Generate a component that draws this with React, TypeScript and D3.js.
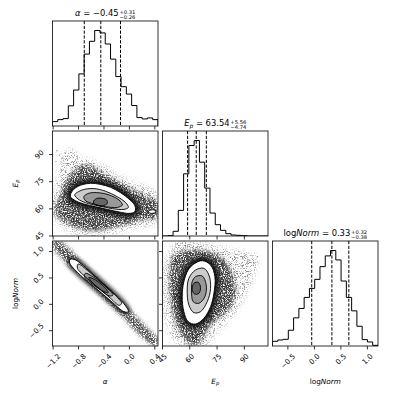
import React, { useRef, useEffect } from 'react';
import * as d3 from 'd3';

// parameter ranges (same as the histogram ranges)
const alphaRange = [-1.21, 0.45];
const epRange = [45, 103];
const normRange = [-0.79, 1.2];

const alphaTicks = [-1.2, -0.8, -0.4, 0.0, 0.4];
const alphaTickLabels = ['−1.2', '−0.8', '−0.4', '0.0', '0.4'];
const epTicks = [45, 60, 75, 90];
const epTickLabels = ['45', '60', '75', '90'];
const normTicks = [-0.5, 0.0, 0.5, 1.0];
const normTickLabels = ['−0.5', '0.0', '0.5', '1.0'];

// 20-bin marginal histograms
const alphaHist = [13, 19, 22, 60, 107, 155, 214, 252, 284, 277, 244, 199, 147, 117, 95, 61, 25, 21, 24, 19];
const epHist = [0, 1, 14, 77, 187, 272, 287, 222, 144, 69, 34, 17, 7, 3, 2, 1, 0, 0, 0, 0];
const normHist = [14, 18, 20, 47, 84, 112, 145, 172, 199, 237, 269, 285, 257, 194, 145, 105, 59, 19, 12, 2];

// 16 / 50 / 84 percentiles
const alphaQuant = [-0.71, -0.45, -0.14];
const epQuant = [58.8, 63.54, 69.1];
const normQuant = [-0.05, 0.33, 0.65];

// alpha vs Ep
const alphaEpHaze = [[-1.202, 57.5], [-1.165, 70.4], [-1.086, 83.3], [-1.033, 90.7], [-0.928, 93.4], [-0.796, 88.8], [-0.638, 87.4], [-0.427, 84.2], [-0.164, 77.8], [0.1, 74.1], [0.363, 70.4], [0.447, 67.7], [0.447, 52.9], [0.153, 50.2], [-0.164, 47.4], [-0.533, 45.6], [-0.849, 46.5], [-1.06, 50.2]];
const alphaEpCloud = [[-1.176, 60.3], [-1.112, 65.8], [-1.033, 72.3], [-0.954, 77.8], [-0.849, 81.8], [-0.717, 84.2], [-0.586, 83.3], [-0.427, 80.0], [-0.269, 76.9], [-0.085, 73.2], [0.1, 69.9], [0.284, 66.7], [0.437, 64.0], [0.437, 55.3], [0.284, 54.2], [0.1, 52.9], [-0.085, 51.1], [-0.269, 49.8], [-0.454, 48.3], [-0.638, 48.0], [-0.796, 49.2], [-0.928, 51.1], [-1.06, 53.8], [-1.155, 56.6]];
const alphaEpLevels = [
  [[-0.928, 67.7], [-0.875, 70.8], [-0.77, 73.0], [-0.612, 74.1], [-0.454, 73.5], [-0.296, 71.9], [-0.138, 68.9], [-0.006, 65.4], [0.089, 61.6], [0.084, 58.4], [-0.006, 57.5], [-0.164, 58.3], [-0.348, 59.7], [-0.533, 61.2], [-0.717, 62.7], [-0.849, 64.5], [-0.918, 66.2]],
  [[-0.86, 67.7], [-0.744, 70.4], [-0.559, 71.2], [-0.375, 69.7], [-0.19, 66.7], [-0.058, 63.4], [-0.016, 60.8], [-0.085, 59.7], [-0.269, 60.1], [-0.48, 61.6], [-0.691, 63.4], [-0.807, 65.4]],
  [[-0.717, 66.7], [-0.638, 68.6], [-0.48, 68.9], [-0.322, 67.7], [-0.164, 64.9], [-0.111, 62.1], [-0.19, 60.8], [-0.375, 61.2], [-0.559, 62.7], [-0.691, 64.5]],
  [[-0.559, 64.5], [-0.507, 65.8], [-0.427, 65.8], [-0.359, 64.9], [-0.348, 63.0], [-0.427, 61.6], [-0.517, 62.0], [-0.564, 63.0]],
];
const alphaEpIsland = [[0.3, 58.8], [0.39, 59.4], [0.416, 58.1], [0.321, 57.6]];
const alphaEpStray = [[-1.139, 92.1], [-1.102, 89.7], [-1.06, 87.9], [-1.007, 90.7], [-1.155, 86.1], [-0.981, 85.1], [-1.07, 81.5], [-0.902, 86.1], [0.205, 69.5], [0.31, 68.2], [0.363, 65.8], [0.047, 71.9], [-0.823, 88.8], [-1.192, 64.0]];

// alpha vs logNorm
const alphaNormCloud = [[-1.202, 1.219], [-1.112, 1.206], [-0.954, 1.061], [-0.691, 0.714], [-0.427, 0.398], [-0.164, 0.095], [0.1, -0.221], [0.31, -0.487], [0.447, -0.645], [0.447, -0.79], [0.337, -0.752], [0.152, -0.569], [-0.111, -0.234], [-0.375, 0.082], [-0.638, 0.398], [-0.902, 0.682], [-1.086, 0.903], [-1.202, 1.08]];
const alphaNormLevels = [
  [[-0.928, 0.853], [-0.849, 0.84], [-0.638, 0.638], [-0.427, 0.41], [-0.217, 0.177], [-0.058, -0.032], [-0.016, -0.139], [-0.085, -0.139], [-0.296, 0.069], [-0.507, 0.284], [-0.717, 0.493], [-0.902, 0.714], [-0.944, 0.802]],
  [[-0.807, 0.764], [-0.638, 0.619], [-0.427, 0.398], [-0.243, 0.196], [-0.122, 0.019], [-0.164, -0.019], [-0.296, 0.113], [-0.48, 0.303], [-0.665, 0.493], [-0.817, 0.682]],
  [[-0.691, 0.587], [-0.559, 0.511], [-0.375, 0.335], [-0.259, 0.177], [-0.312, 0.158], [-0.454, 0.271], [-0.612, 0.41], [-0.707, 0.524]],
  [[-0.638, 0.511], [-0.533, 0.461], [-0.375, 0.303], [-0.333, 0.221], [-0.401, 0.24], [-0.559, 0.379]],
];

// Ep vs logNorm
const epNormHaze = [[48.49, 0.966], [52.16, 1.156], [63.17, 1.187], [77.85, 1.061], [90.69, 0.966], [97.11, 0.871], [94.36, 0.461], [88.86, 0.082], [81.52, -0.297], [72.34, -0.613], [68.67, -0.79], [55.83, -0.79], [50.32, -0.613], [46.65, -0.234], [45.73, 0.271], [46.28, 0.714]];
const epNormCloud = [[51.24, 0.935], [55.83, 0.998], [63.17, 1.029], [70.51, 0.998], [76.93, 0.903], [81.52, 0.714], [84.27, 0.461], [85.19, 0.208], [82.43, -0.044], [76.93, -0.234], [71.42, -0.392], [67.75, -0.613], [65.0, -0.739], [61.33, -0.771], [57.66, -0.676], [53.99, -0.487], [51.24, -0.234], [49.4, 0.082], [48.85, 0.398], [49.4, 0.714]];
const epNormLevels = [
  [[62.25, 0.764], [66.84, 0.827], [71.42, 0.745], [73.81, 0.524], [73.26, 0.208], [71.42, -0.044], [67.75, -0.265], [63.17, -0.373], [59.13, -0.329], [56.74, -0.139], [55.83, 0.145], [56.74, 0.429], [59.13, 0.65]],
  [[63.17, 0.65], [67.75, 0.682], [70.51, 0.556], [71.42, 0.303], [69.59, 0.05], [65.92, -0.139], [62.25, -0.158], [59.5, -0.013], [58.58, 0.271], [59.5, 0.493]],
  [[63.17, 0.524], [66.84, 0.537], [69.04, 0.366], [68.3, 0.145], [65.0, 0.019], [61.88, 0.05], [60.96, 0.271], [61.33, 0.429]],
  [[62.25, 0.398], [64.63, 0.417], [65.92, 0.322], [65.0, 0.208], [62.62, 0.196], [61.33, 0.284]],
];
const epNormStray = [[87.02, 0.998], [90.69, 0.935], [92.53, 0.84], [95.28, 0.777], [88.86, 0.714], [97.11, 0.903], [86.1, 0.587], [91.61, 0.524], [83.35, 0.271], [92.53, 0.619], [53.07, 1.143], [57.66, 1.105], [61.33, 1.08]];

const FONT = 'DejaVu Sans, sans-serif';
const cols = [52.5, 162.5, 272.5];
const rows = [21, 131, 241];
const PW = 105.5;
const PH = 105;
const LEVEL_FILLS = ['#ffffff', '#cccccc', '#999999', '#666666'];

function App() {
  const ref = useRef<SVGSVGElement>(null);

  useEffect(() => {
    if (ref.current) drawChart(ref.current);
  }, []);

  return (
    <svg ref={ref} width={399} height={399} style={{ position: 'absolute', left: 0, top: 0 }} />
  );
}

function drawChart(node: SVGSVGElement) {
  const svg = d3.select(node);
  svg.selectAll('*').remove();
  svg.append('rect').attr('width', 399).attr('height', 399).attr('fill', '#fff');

  const defs = svg.append('defs');
  const grain = (id: string, slope: number, offset: number, seed: number, blur: number) => {
    const f = defs.append('filter').attr('id', id)
      .attr('x', '-10%').attr('y', '-10%').attr('width', '120%').attr('height', '120%')
      .attr('color-interpolation-filters', 'sRGB');
    f.append('feTurbulence').attr('type', 'fractalNoise').attr('baseFrequency', 0.9)
      .attr('numOctaves', 2).attr('seed', seed).attr('result', 'noise');
    f.append('feColorMatrix').attr('in', 'noise').attr('type', 'matrix')
      .attr('values', `0 0 0 0 0  0 0 0 0 0  0 0 0 0 0  ${slope} 0 0 0 ${offset}`).attr('result', 'mask');
    f.append('feGaussianBlur').attr('in', 'SourceGraphic').attr('stdDeviation', blur).attr('result', 'soft');
    f.append('feComposite').attr('in', 'soft').attr('in2', 'mask').attr('operator', 'in');
  };
  grain('grainDense', 5, -1.7, 3, 2.2);
  grain('grainLight', 6, -3.1, 11, 3);
  defs.append('filter').attr('id', 'halo').attr('x', '-30%').attr('y', '-30%').attr('width', '160%').attr('height', '160%')
    .append('feGaussianBlur').attr('stdDeviation', 2.2);

  const xA = d3.scaleLinear().domain(alphaRange).range([cols[0], cols[0] + PW]);
  const xE = d3.scaleLinear().domain(epRange).range([cols[1], cols[1] + PW]);
  const xN = d3.scaleLinear().domain(normRange).range([cols[2], cols[2] + PW]);
  const yE = d3.scaleLinear().domain(epRange).range([rows[1] + PH, rows[1]]);
  const yN = d3.scaleLinear().domain(normRange).range([rows[2] + PH, rows[2]]);

  const clip = (id: string, c: number, r: number) => {
    defs.append('clipPath').attr('id', id).append('rect')
      .attr('x', cols[c]).attr('y', rows[r]).attr('width', PW).attr('height', PH);
  };

  const frame = (c: number, r: number) => {
    svg.append('rect').attr('x', cols[c]).attr('y', rows[r]).attr('width', PW).attr('height', PH)
      .attr('fill', 'none').attr('stroke', '#000').attr('stroke-width', 0.8);
  };

  const xTicks = (r: number, xs: any, ticks: number[]) => {
    const y0 = rows[r] + PH;
    ticks.forEach(t => {
      svg.append('line').attr('x1', xs(t)).attr('x2', xs(t)).attr('y1', y0).attr('y2', y0 + 3.5)
        .attr('stroke', '#000').attr('stroke-width', 0.8);
    });
  };
  const yTicks = (c: number, ys: any, ticks: number[]) => {
    const x0 = cols[c];
    ticks.forEach(t => {
      svg.append('line').attr('x1', x0 - 3.5).attr('x2', x0).attr('y1', ys(t)).attr('y2', ys(t))
        .attr('stroke', '#000').attr('stroke-width', 0.8);
    });
  };

  const TICK_FS = 7.2;
  const xTickLabels = (xs: any, ticks: number[], labels: string[]) => {
    ticks.forEach((t, i) => {
      const txt = svg.append('text').text(labels[i]).attr('font-family', FONT).attr('font-size', TICK_FS)
        .attr('text-anchor', 'middle').attr('dominant-baseline', 'central');
      const w = (txt.node() as SVGTextElement).getComputedTextLength();
      const s = (w + TICK_FS * 0.8) * 0.7071;
      txt.attr('transform', `translate(${xs(t)},${rows[2] + PH + 7 + s / 2}) rotate(-45)`);
    });
  };
  const yTickLabels = (ys: any, ticks: number[], labels: string[]) => {
    ticks.forEach((t, i) => {
      const txt = svg.append('text').text(labels[i]).attr('font-family', FONT).attr('font-size', TICK_FS)
        .attr('text-anchor', 'middle').attr('dominant-baseline', 'central');
      const w = (txt.node() as SVGTextElement).getComputedTextLength();
      const s = (w + TICK_FS * 0.8) * 0.7071;
      txt.attr('transform', `translate(${cols[0] - 8 - s / 2},${ys(t)}) rotate(-45)`);
    });
  };

  type Part = { t: string; it?: boolean; sub?: boolean };
  const mathText = (g: any, parts: Part[], size: number) => {
    const txt = g.append('text').attr('font-family', FONT).attr('font-size', size).attr('fill', '#000');
    let shifted = false;
    parts.forEach(p => {
      const ts = txt.append('tspan').text(p.t).attr('font-style', p.it ? 'italic' : 'normal');
      if (p.sub) {
        ts.attr('font-size', size * 0.7).attr('dy', size * 0.22);
        shifted = true;
      } else if (shifted) {
        ts.attr('dy', -size * 0.22);
        shifted = false;
      }
    });
    return txt;
  };

  const title = (cx: number, baseY: number, parts: Part[], plus: string, minus: string) => {
    const g = svg.append('g');
    const main = mathText(g, parts, 8.4).attr('y', baseY);
    const w = (main.node() as SVGTextElement).getComputedTextLength();
    const sup = g.append('text').attr('x', w + 0.8).attr('y', baseY - 1.9).attr('font-family', FONT)
      .attr('font-size', 5.2).text(plus);
    const sub = g.append('text').attr('x', w + 0.8).attr('y', baseY + 2.9).attr('font-family', FONT)
      .attr('font-size', 5.2).text(minus);
    const sw = Math.max((sup.node() as SVGTextElement).getComputedTextLength(),
      (sub.node() as SVGTextElement).getComputedTextLength());
    g.attr('transform', `translate(${cx - (w + 0.8 + sw) / 2},0)`);
  };

  const axisLabel = (x: number, y: number, parts: Part[], rotate: boolean) => {
    const g = svg.append('g').attr('transform', `translate(${x},${y})${rotate ? ' rotate(-90)' : ''}`);
    mathText(g, parts, 7.3).attr('text-anchor', 'middle').attr('dominant-baseline', 'central');
  };

  // ---- diagonal histograms ----
  const hist = (c: number, xs: any, counts: number[], quant: number[], ticks: number[]) => {
    const top = rows[c];
    const ys = d3.scaleLinear().domain([0, 1.1 * (d3.max(counts) as number)]).range([top + PH, top]);
    const [d0, d1] = xs.domain();
    const bw = (d1 - d0) / counts.length;
    let p = `M${xs(d0)},${ys(0)}`;
    counts.forEach((v, i) => {
      p += `V${ys(v)}H${xs(d0 + (i + 1) * bw)}`;
    });
    p += `V${ys(0)}`;
    const id = `clipH${c}`;
    clip(id, c, c);
    svg.append('path').attr('d', p).attr('fill', 'none').attr('stroke', '#000')
      .attr('stroke-width', 1).attr('clip-path', `url(#${id})`);
    quant.forEach(q => {
      svg.append('line').attr('x1', xs(q)).attr('x2', xs(q)).attr('y1', top).attr('y2', top + PH)
        .attr('stroke', '#000').attr('stroke-width', 1).attr('stroke-dasharray', '3.2,1.6');
    });
    frame(c, c);
    xTicks(c, xs, ticks);
  };

  hist(0, xA, alphaHist, alphaQuant, alphaTicks);
  hist(1, xE, epHist, epQuant, epTicks);
  hist(2, xN, normHist, normQuant, normTicks);

  // ---- 2d panels ----
  const shape = (xs: any, ys: any) => d3.line<number[]>()
    .x(d => xs(d[0])).y(d => ys(d[1]))
    .curve(d3.curveCatmullRomClosed.alpha(0.5));

  const panel2d = (c: number, r: number, xs: any, ys: any, haze: number[][] | null, cloud: number[][],
    levels: number[][][], stray: number[][], islands: number[][][], haloW: number) => {
    const id = `clip${r}${c}`;
    clip(id, c, r);
    const g = svg.append('g').attr('clip-path', `url(#${id})`);
    const gen = shape(xs, ys);
    if (haze) {
      g.append('path').attr('d', gen(haze)).attr('fill', '#000').attr('opacity', 0.45)
        .attr('filter', 'url(#grainLight)');
    }
    g.append('path').attr('d', gen(cloud)).attr('fill', '#000').attr('opacity', 0.7)
      .attr('filter', 'url(#grainDense)');
    // dense band of samples hugging the outer contour
    g.append('path').attr('d', gen(levels[0])).attr('fill', '#111').attr('stroke', '#111')
      .attr('stroke-width', haloW).attr('stroke-linejoin', 'round').attr('opacity', 0.9)
      .attr('filter', 'url(#halo)');
    g.selectAll(null).data(stray).enter().append('circle')
      .attr('cx', d => xs(d[0])).attr('cy', d => ys(d[1])).attr('r', 0.7)
      .attr('fill', '#000').attr('opacity', 0.45);
    islands.forEach(isl => {
      g.append('path').attr('d', gen(isl)).attr('fill', '#fff').attr('stroke', '#000').attr('stroke-width', 0.9);
    });
    levels.forEach((lv, i) => {
      g.append('path').attr('d', gen(lv)).attr('fill', LEVEL_FILLS[i]);
    });
    levels.forEach(lv => {
      g.append('path').attr('d', gen(lv)).attr('fill', 'none').attr('stroke', '#000').attr('stroke-width', 0.9);
    });
    frame(c, r);
  };

  panel2d(0, 1, xA, yE, alphaEpHaze, alphaEpCloud, alphaEpLevels, alphaEpStray, [alphaEpIsland], 9);
  panel2d(0, 2, xA, yN, null, alphaNormCloud, alphaNormLevels, [], [], 4);
  panel2d(1, 2, xE, yN, epNormHaze, epNormCloud, epNormLevels, epNormStray, [], 9);

  xTicks(1, xA, alphaTicks);
  yTicks(0, yE, epTicks);
  xTicks(2, xA, alphaTicks);
  yTicks(0, yN, normTicks);
  xTicks(2, xE, epTicks);
  yTicks(1, yN, normTicks);

  xTickLabels(xA, alphaTicks, alphaTickLabels);
  xTickLabels(xE, epTicks, epTickLabels);
  xTickLabels(xN, normTicks, normTickLabels);
  yTickLabels(yE, epTicks, epTickLabels);
  yTickLabels(yN, normTicks, normTickLabels);

  // titles
  const cx = (c: number) => cols[c] + PW / 2;
  title(cx(0), 16, [{ t: 'α', it: true }, { t: ' = −0.45' }], '+0.31', '−0.26');
  title(cx(1), 126, [{ t: 'E', it: true }, { t: 'p', it: true, sub: true }, { t: ' = 63.54' }], '+5.56', '−4.74');
  title(cx(2), 236, [{ t: 'log' }, { t: 'Norm', it: true }, { t: ' = 0.33' }], '+0.32', '−0.38');

  // axis labels
  axisLabel(cx(0), 381, [{ t: 'α', it: true }], false);
  axisLabel(cx(1), 381, [{ t: 'E', it: true }, { t: 'p', it: true, sub: true }], false);
  axisLabel(cx(2), 381, [{ t: 'log' }, { t: 'Norm', it: true }], false);
  axisLabel(15, rows[1] + PH / 2, [{ t: 'E', it: true }, { t: 'p', it: true, sub: true }], true);
  axisLabel(15, rows[2] + PH / 2, [{ t: 'log' }, { t: 'Norm', it: true }], true);
}

export default App;
